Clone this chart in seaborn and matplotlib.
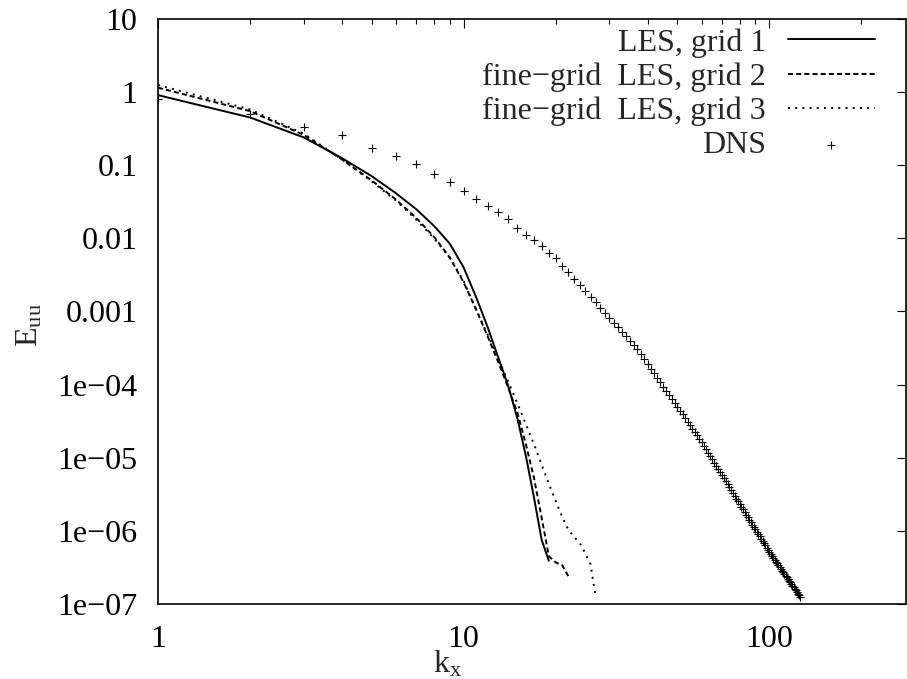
import matplotlib
matplotlib.use("Agg")
import matplotlib.pyplot as plt
import seaborn as sns
from matplotlib.ticker import FixedLocator, FixedFormatter, LogLocator, NullFormatter

# Streamwise energy spectra E_uu(k_x)
k_les1 = list(range(1, 20))
E_les1 = [0.91, 0.45, 0.24, 0.125, 0.071, 0.0415, 0.025, 0.0148, 0.0085, 0.0040,
          1.55e-3, 6.0e-4, 2.3e-4, 9.5e-5, 3.4e-5, 1.03e-5, 2.8e-6, 7.5e-7, 3.9e-7]

k_les2 = list(range(1, 23))
E_les2 = [1.15, 0.55, 0.26, 0.12, 0.062, 0.034, 0.019, 0.0105, 0.0055, 0.0025,
          1.05e-3, 4.5e-4, 2.0e-4, 9.0e-5, 4.1e-5, 1.5e-5, 5.2e-6, 1.5e-6, 4.5e-7,
          3.7e-7, 3.4e-7, 2.4e-7]

k_les3 = list(range(1, 28))
E_les3 = [1.25, 0.58, 0.27, 0.12, 0.06, 0.033, 0.018, 0.0100, 0.0055, 0.0026,
          1.05e-3, 4.75e-4, 2.2e-4, 1.09e-4, 5.5e-5, 2.83e-5, 1.51e-5, 8.0e-6, 4.4e-6,
          2.56e-6, 1.56e-6, 1.04e-6, 8.2e-7, 6.8e-7, 4.9e-7, 3.5e-7, 1.3e-7]

k_dns = list(range(1, 127))
E_dns = [0.80, 0.50, 0.333, 0.257, 0.171, 0.134, 0.103, 0.0759, 0.0583, 0.0448,
         0.0345, 0.0277, 0.0227, 0.0182, 0.0140, 0.0111, 0.0095, 0.00785, 0.00636, 0.00532,
         4.25e-3, 3.44e-3, 2.80e-3, 2.30e-3, 1.91e-3, 1.59e-3, 1.34e-3, 1.13e-3, 9.59e-4, 8.19e-4,
         7.03e-4, 6.07e-4, 5.26e-4, 4.57e-4, 4.00e-4, 3.51e-4, 3.08e-4, 2.61e-4, 2.23e-4, 1.92e-4,
         1.65e-4, 1.43e-4, 1.24e-4, 1.075e-4, 9.39e-5, 8.21e-5, 7.21e-5, 6.35e-5, 5.60e-5, 4.95e-5,
         4.40e-5, 3.91e-5, 3.48e-5, 3.11e-5, 2.78e-5, 2.49e-5, 2.24e-5, 2.02e-5, 1.82e-5, 1.63e-5,
         1.46e-5, 1.31e-5, 1.17e-5, 1.05e-5, 9.50e-6, 8.57e-6, 7.73e-6, 7.00e-6, 6.34e-6, 5.75e-6,
         5.22e-6, 4.75e-6, 4.33e-6, 3.95e-6, 3.60e-6, 3.30e-6, 3.02e-6, 2.76e-6, 2.54e-6, 2.33e-6,
         2.14e-6, 1.97e-6, 1.81e-6, 1.67e-6, 1.55e-6, 1.43e-6, 1.32e-6, 1.22e-6, 1.13e-6, 1.05e-6,
         9.74e-7, 9.04e-7, 8.40e-7, 7.82e-7, 7.28e-7, 6.78e-7, 6.31e-7, 5.90e-7, 5.51e-7, 5.14e-7,
         4.82e-7, 4.54e-7, 4.28e-7, 4.04e-7, 3.81e-7, 3.60e-7, 3.40e-7, 3.21e-7, 3.04e-7, 2.87e-7,
         2.72e-7, 2.58e-7, 2.44e-7, 2.31e-7, 2.19e-7, 2.08e-7, 1.98e-7, 1.88e-7, 1.78e-7, 1.70e-7,
         1.61e-7, 1.53e-7, 1.46e-7, 1.39e-7, 1.32e-7, 1.26e-7]

x_ticks = [1, 10, 100]
x_tick_labels = ["1", "10", "100"]
y_ticks = [1e-7, 1e-6, 1e-5, 1e-4, 1e-3, 1e-2, 1e-1, 1, 10]
y_tick_labels = ["1e\u221207", "1e\u221206", "1e\u221205", "1e\u221204",
                 "0.001", "0.01", "0.1", "1", "10"]

sns.set_theme(style="white")
plt.rcParams["font.family"] = ["Liberation Serif", "DejaVu Serif"]
plt.rcParams["mathtext.fontset"] = "custom"
plt.rcParams["mathtext.rm"] = "Liberation Serif"
plt.rcParams["mathtext.it"] = "Liberation Serif:italic"

FS = 23
fig = plt.figure(figsize=(9.07, 6.79), dpi=100)
ax = fig.add_axes([158 / 907, 75 / 679, 748 / 907, 585 / 679])

lw = 1.4
sns.lineplot(x=k_les1, y=E_les1, ax=ax, color="black", linewidth=lw,
             label="LES, grid 1", estimator=None, sort=False)
sns.lineplot(x=k_les2, y=E_les2, ax=ax, color="black", linewidth=lw,
             linestyle=(0, (2.6, 1.6)), label="fine\u2212grid  LES, grid 2",
             estimator=None, sort=False)
sns.lineplot(x=k_les3, y=E_les3, ax=ax, color="black", linewidth=lw,
             linestyle=(0, (1.0, 2.7)), label="fine\u2212grid  LES, grid 3",
             estimator=None, sort=False)
sns.scatterplot(x=k_dns, y=E_dns, ax=ax, color="black", marker="+", s=36,
                linewidth=0.8, label="DNS")

ax.set_xscale("log")
ax.set_yscale("log")
ax.set_xlim(1, 280)
ax.set_ylim(1e-7, 10)

ax.xaxis.set_major_locator(FixedLocator(x_ticks))
ax.xaxis.set_major_formatter(FixedFormatter(x_tick_labels))
ax.xaxis.set_minor_locator(LogLocator(base=10, subs=range(2, 10), numticks=20))
ax.xaxis.set_minor_formatter(NullFormatter())
ax.yaxis.set_major_locator(FixedLocator(y_ticks))
ax.yaxis.set_major_formatter(FixedFormatter(y_tick_labels))
ax.yaxis.set_minor_locator(LogLocator(base=10, subs=[2, 5, 8], numticks=30))
ax.yaxis.set_minor_formatter(NullFormatter())

ax.tick_params(which="both", direction="in", top=True, right=True, colors="black",
               labelsize=FS, width=0.8)
ax.tick_params(which="major", length=6.5)
ax.tick_params(which="minor", length=3.3)
ax.tick_params(which="minor", axis="y", right=False)
ax.tick_params(axis="y", pad=15)
ax.tick_params(axis="x", pad=15)
for sp in ax.spines.values():
    sp.set_color("black")
    sp.set_linewidth(1.2)

ax.set_xlabel(r"k$_{\mathrm{x}}$", fontsize=FS, va="center")
ax.xaxis.set_label_coords(448 / 907, 1 - 664 / 679, transform=fig.transFigure)
ax.set_ylabel(r"E$_{\mathrm{uu}}$", fontsize=FS, va="center", rotation_mode="anchor")
ax.yaxis.set_label_coords(30 / 907, 1 - 325 / 679, transform=fig.transFigure)

handles, labels = ax.get_legend_handles_labels()
ax.legend(handles, labels, loc="upper right", bbox_to_anchor=(0.9586, 0.9846),
          frameon=False, markerfirst=False, fontsize=FS, borderpad=0,
          borderaxespad=0, handlelength=2.73, handletextpad=0.69,
          labelspacing=0.15)

fig.savefig("out.png", dpi=100)
